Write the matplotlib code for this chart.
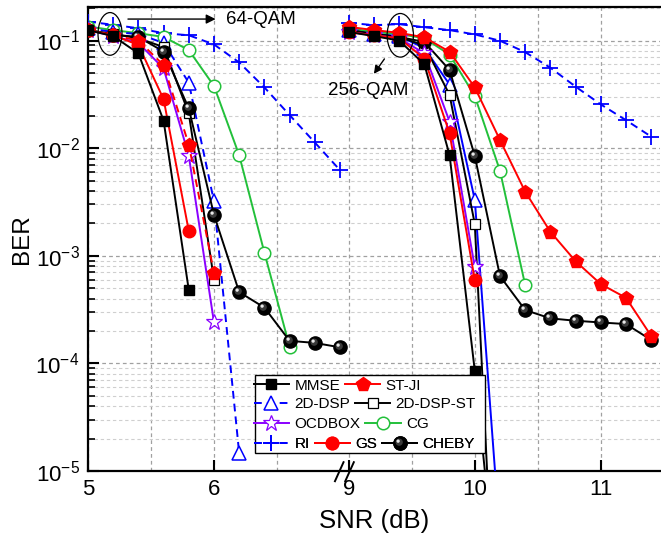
import numpy as np
import matplotlib
matplotlib.use("Agg")
import matplotlib.pyplot as plt
from matplotlib.lines import Line2D
from matplotlib.patches import Ellipse, Rectangle
from matplotlib.markers import MarkerStyle
from matplotlib.transforms import Affine2D
from matplotlib.legend_handler import HandlerTuple
from matplotlib.ticker import FixedLocator, FixedFormatter, LogLocator, NullFormatter

plt.rcParams['font.family'] = ['Liberation Sans', 'DejaVu Sans']
plt.rcParams['mathtext.fontset'] = 'custom'
plt.rcParams['mathtext.rm'] = 'Liberation Sans'
plt.rcParams['mathtext.it'] = 'Liberation Sans:italic'

# ---------------- data ----------------
# 64-QAM segment (SNR 5.0 ... 7.0 dB, step 0.2)
snr_64 = [5.0, 5.2, 5.4, 5.6, 5.8, 6.0, 6.2, 6.4, 6.6, 6.8, 7.0]
# 256-QAM segment (SNR 9.0 ... 11.4 dB, step 0.2)
snr_256 = [9.0, 9.2, 9.4, 9.6, 9.8, 10.0, 10.2, 10.4, 10.6, 10.8, 11.0, 11.2, 11.4]

mmse_64 = [0.125, 0.11, 0.076, 0.018, 4.8e-4]
stji_64 = [0.125, 0.112, 0.1, 0.059, 0.0108, 6.9e-4]
dsp_64 = [0.13, 0.12, 0.115, 0.095, 0.0406, 3.2e-3, 1.46e-5]
dspst_64 = [0.125, 0.115, 0.105, 0.087, 0.021, 6.0e-4]
ocd_64 = [0.125, 0.11, 0.095, 0.055, 8.5e-3, 2.4e-4]
cg_64 = [0.135, 0.125, 0.117, 0.108, 0.0816, 0.0378, 8.6e-3, 1.07e-3, 1.43e-4]
ri_64 = [0.15, 0.14, 0.13, 0.117, 0.112, 0.092, 0.0626, 0.0367, 0.0203, 0.0113, 6.25e-3]
gs_64 = [0.125, 0.112, 0.091, 0.0285, 1.7e-3]
cheby_64 = [0.125, 0.113, 0.108, 0.079, 0.0234, 2.4e-3, 4.6e-4, 3.3e-4, 1.62e-4, 1.55e-4, 1.41e-4]

mmse_256 = [0.12, 0.11, 0.1, 0.06, 8.6e-3, 8.5e-5, 4e-7]
stji_256 = [0.134, 0.125, 0.118, 0.107, 0.0787, 0.0367, 0.0119, 3.94e-3, 1.67e-3, 8.9e-4, 5.45e-4, 4.07e-4, 1.8e-4]
dsp_256 = [0.125, 0.115, 0.11, 0.085, 0.039, 3.3e-3, 2.4e-6]
dspst_256 = [0.125, 0.115, 0.108, 0.09, 0.0312, 1.97e-3, 4e-8]
ocd_256 = [0.12, 0.112, 0.105, 0.076, 0.0176, 7.8e-4]
cg_256 = [0.13, 0.12, 0.115, 0.105, 0.074, 0.0305, 6.16e-3, 5.34e-4]
ri_256 = [0.146, 0.139, 0.142, 0.133, 0.125, 0.114, 0.0996, 0.078, 0.0559, 0.0373, 0.0255, 0.0182, 0.0128]
gs_256 = [0.12, 0.112, 0.105, 0.068, 0.0137, 5.94e-4]
cheby_256 = [0.125, 0.115, 0.108, 0.097, 0.0532, 8.45e-3, 6.47e-4, 3.13e-4, 2.62e-4, 2.49e-4, 2.4e-4, 2.32e-4, 1.65e-4]

x_ticks = [5, 6, 9, 10, 11]
x_ticklabels = ['5', '6', '9', '10', '11']
x_minor = [5.5, 6.5, 9.5, 10.5]

labels = ['MMSE', 'ST-JI', '2D-DSP', '2D-DSP-ST', 'OCDBOX', 'CG', 'RI', 'GS', 'CHEBY']

# ---------------- broken x scale ----------------
def fwd(x):
    x = np.asarray(x, dtype=float)
    return np.where(x <= 7.0, x, np.where(x >= 9.0, x - 1.93, 7.0 + (x - 7.0) * 0.035))

def inv(y):
    y = np.asarray(y, dtype=float)
    return np.where(y <= 7.0, y, np.where(y >= 7.07, y + 1.93, 7.0 + (y - 7.0) / 0.035))

fig = plt.figure(figsize=(6.61, 5.46), dpi=100)
ax = fig.add_axes([88/661, 75/546, 572/661, 464/546])
ax.set_xscale('function', functions=(fwd, inv))
ax.set_yscale('log')

RED = '#FF0000'
BLUE = '#0000FF'
GREEN = '#22C03A'
PURPLE = '#8A00FF'
LW = 1.4
DASH = (4.0, 2.6)

# sphere-like highlight markers (small offset circles)
hl_mid = MarkerStyle('o', transform=Affine2D().scale(0.55).translate(-0.1, 0.1))
hl_top = MarkerStyle('o', transform=Affine2D().scale(0.25).translate(-0.18, 0.18))
CHEBY_MS = 9.5

styles = {
    'MMSE': dict(color='k', marker='s', ms=7, mfc='k', mec='k'),
    'ST-JI': dict(color=RED, marker='p', ms=10.5, mfc=RED, mec=RED),
    '2D-DSP': dict(color=BLUE, marker='^', ms=10, mfc='white', mec=BLUE, mew=1.1),
    '2D-DSP-ST': dict(color='k', marker='s', ms=7.5, mfc='white', mec='k', mew=0.9),
    'OCDBOX': dict(color=PURPLE, marker='*', ms=12, mfc='white', mec=PURPLE, mew=0.9),
    'CG': dict(color=GREEN, marker='o', ms=9, mfc='white', mec=GREEN, mew=1.1),
    'RI': dict(color=BLUE, marker='+', ms=11, mew=1.3),
    'GS': dict(color=RED, marker='o', ms=9, mfc=RED, mec=RED),
    'CHEBY': dict(color='k', marker='o', ms=CHEBY_MS, mfc='k', mec='k'),
}

data64 = {'MMSE': mmse_64, 'ST-JI': stji_64, '2D-DSP': dsp_64, '2D-DSP-ST': dspst_64,
          'OCDBOX': ocd_64, 'CG': cg_64, 'RI': ri_64, 'GS': gs_64, 'CHEBY': cheby_64}
data256 = {'MMSE': mmse_256, 'ST-JI': stji_256, '2D-DSP': dsp_256, '2D-DSP-ST': dspst_256,
           'OCDBOX': ocd_256, 'CG': cg_256, 'RI': ri_256, 'GS': gs_256, 'CHEBY': cheby_256}
ls64 = {'ST-JI': 'dashed', '2D-DSP': 'dashed', 'RI': 'dashed'}
ls256 = {'2D-DSP': 'solid', 'RI': 'dashed'}
zorders = {'RI': 3, 'CG': 4, '2D-DSP': 5, '2D-DSP-ST': 6, 'CHEBY': 7, 'OCDBOX': 8,
           'ST-JI': 9, 'GS': 10, 'MMSE': 11}


def sphere_highlights(x, ys, z):
    ax.plot(x, ys, ls='none', marker=hl_mid, ms=CHEBY_MS, mfc='#3a3a3a', mec='none', zorder=z + 0.1)
    ax.plot(x, ys, ls='none', marker=hl_top, ms=CHEBY_MS, mfc='#e8e8e8', mec='none', zorder=z + 0.2)


for name in labels:
    st = styles[name]
    for xs, ys, lsd in ((snr_64, data64[name], ls64), (snr_256, data256[name], ls256)):
        x = xs[:len(ys)]
        ls = lsd.get(name, 'solid')
        line, = ax.plot(x, ys, lw=LW, zorder=zorders[name], **st)
        if ls == 'dashed':
            line.set_dashes(DASH)
        if name == 'CHEBY':
            sphere_highlights(x, ys, zorders[name])

ax.set_xlim(5, 11.47)
ax.set_ylim(1e-5, 0.205)

ax.xaxis.set_major_locator(FixedLocator(x_ticks))
ax.xaxis.set_major_formatter(FixedFormatter(x_ticklabels))
ax.xaxis.set_minor_locator(FixedLocator(x_minor))
ax.xaxis.set_minor_formatter(NullFormatter())
ax.yaxis.set_major_locator(LogLocator(base=10, numticks=20))
ax.yaxis.set_minor_locator(LogLocator(base=10, subs=np.arange(2, 10), numticks=20))
ax.yaxis.set_minor_formatter(NullFormatter())

ax.tick_params(axis='both', which='major', direction='in', length=8, width=1.5, labelsize=16, pad=6)
ax.tick_params(axis='y', which='minor', direction='in', length=5, width=1.2)
ax.tick_params(axis='x', which='minor', length=0)

ax.grid(True, which='major', axis='both', color='#a0a0a0', ls=(0, (3, 2.5)), lw=0.9)
ax.grid(True, which='minor', axis='y', color='#cfcfcf', ls=(0, (3, 2.5)), lw=0.8)
ax.grid(True, which='minor', axis='x', color='#a0a0a0', ls=(0, (3, 2.5)), lw=0.9)
ax.set_axisbelow(True)

for s in ['left', 'bottom', 'top']:
    ax.spines[s].set_linewidth(1.6)
ax.spines['right'].set_visible(False)

ax.set_xlabel('SNR (dB)', fontsize=18.5, labelpad=6)
ax.set_ylabel('BER', fontsize=17.5, labelpad=2)

# axis-break marks
xb = (fwd(8.0) - 5.0) / (fwd(11.47) - 5.0)
for off in (-0.009, 0.009):
    ax.plot([xb + off - 0.0075, xb + off + 0.0075], [-0.022, 0.019], transform=ax.transAxes,
            color='k', lw=1.4, clip_on=False, zorder=20)

# annotations
ax.add_patch(Ellipse((0.0385, 0.942), 0.042, 0.092, transform=ax.transAxes,
                     fill=False, ec='k', lw=0.9, zorder=15))
ax.annotate('', xy=(0.228, 0.974), xytext=(0.065, 0.974), xycoords='axes fraction',
            arrowprops=dict(arrowstyle='-|>', color='k', lw=1.0, mutation_scale=14), zorder=15)
ax.text(0.242, 0.972, '64-QAM', transform=ax.transAxes, fontsize=13.5, va='center', ha='left')

ax.add_patch(Ellipse((0.546, 0.939), 0.046, 0.094, transform=ax.transAxes,
                     fill=False, ec='k', lw=0.9, zorder=15))
ax.annotate('', xy=(0.497, 0.851), xytext=(0.521, 0.893), xycoords='axes fraction',
            arrowprops=dict(arrowstyle='-|>', color='k', lw=1.0, mutation_scale=12), zorder=15)
ax.text(0.489, 0.821, '256-QAM', transform=ax.transAxes, fontsize=13.5, va='center', ha='center')

# legend (flow layout, 4 rows) with a single frame
fx0, fx1 = (255 - 88) / 572, (485 - 88) / 572
fy0, fy1 = 1 - (453 - 7) / 464, 1 - (375 - 7) / 464
ax.add_patch(Rectangle((fx0, fy0), fx1 - fx0, fy1 - fy0, transform=ax.transAxes,
                       fc='white', ec='k', lw=1.0, zorder=30))


def handle(name):
    st = dict(styles[name])
    ls = '--' if name in ('2D-DSP', 'RI') else '-'
    h = Line2D([], [], lw=LW, ls=ls, **st)
    if ls == '--':
        h.set_dashes(DASH)
    if name == 'CHEBY':
        h2 = Line2D([], [], ls='none', marker=hl_mid, ms=CHEBY_MS, mfc='#3a3a3a', mec='none')
        h3 = Line2D([], [], ls='none', marker=hl_top, ms=CHEBY_MS, mfc='#e8e8e8', mec='none')
        return (h, h2, h3)
    return h


rows = [['MMSE', 'ST-JI'], ['2D-DSP', '2D-DSP-ST'], ['OCDBOX', 'CG'], ['RI', 'GS', 'CHEBY']]
row_y = [385.5, 404.5, 424.5, 444.0]
for names, py in zip(rows, row_y):
    yy = 1 - (py - 7) / 464
    leg = ax.legend([handle(n) for n in names], names, loc='center left',
                    bbox_to_anchor=(fx0 - 0.002, yy), ncol=len(names), frameon=False,
                    fontsize=11, handlelength=2.3, handletextpad=0.35, columnspacing=0.33,
                    borderpad=0, borderaxespad=0,
                    handler_map={tuple: HandlerTuple(ndivide=1)})
    leg.set_zorder(31)
    ax.add_artist(leg)

fig.savefig('out.png', dpi=100)
